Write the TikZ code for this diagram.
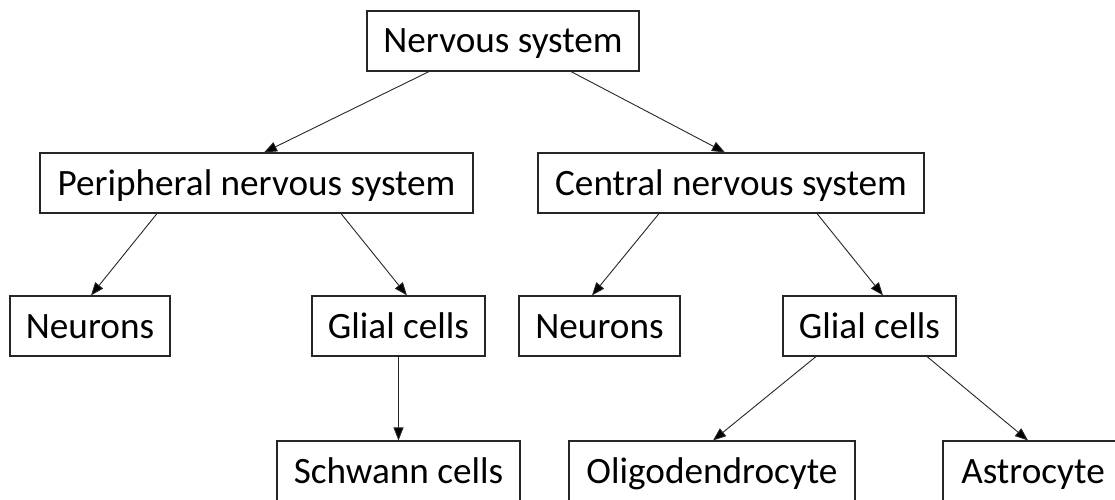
\documentclass[tikz,border=0pt]{standalone}
\usepackage{fontspec}
\setmainfont{Carlito}
\usetikzlibrary{arrows.meta}
\begin{document}
\begin{tikzpicture}[x=1pt,y=-1pt,
  box/.style={draw=black!85,line width=1.1pt,fill=white,inner sep=0pt,minimum height=60pt,
    font=\fontsize{37.2}{40}\selectfont,text height=24pt,text depth=0pt,anchor=center},
  arr/.style={draw=black!85,line width=0.9pt,-{Triangle[length=13pt,width=10pt,fill=black]}}]
\useasboundingbox (0,0) rectangle (1115,500);
\node[box,minimum width=272pt] (ns) at (503,41) {Nervous system};
\node[box,minimum width=433pt] (pns) at (256.5,183) {Peripheral nervous system};
\node[box,minimum width=386pt] (cns) at (731,183) {Central nervous system};
\node[box,minimum width=160pt] (n1) at (90,326) {Neurons};
\node[box,minimum width=173pt] (g1) at (398.5,326) {Glial cells};
\node[box,minimum width=161pt] (n2) at (599.5,326) {Neurons};
\node[box,minimum width=173pt] (g2) at (869.5,326) {Glial cells};
\node[box,minimum width=243pt] (sc) at (398.5,471) {Schwann cells};
\node[box,minimum width=286pt] (ol) at (712,471) {Oligodendrocyte};
\node[box,minimum width=180pt] (as) at (1033,471) {Astrocyte};
\draw[arr] ([xshift=-74pt]ns.south) -- ([xshift=7.5pt]pns.north);
\draw[arr] ([xshift=68pt]ns.south) -- ([xshift=-6pt]cns.north);
\draw[arr] ([xshift=-99.5pt]pns.south) -- ([xshift=1pt]n1.north);
\draw[arr] ([xshift=84.5pt]pns.south) -- ([xshift=8.5pt]g1.north);
\draw[arr] ([xshift=-72pt]cns.south) -- ([xshift=-7.5pt]n2.north);
\draw[arr] ([xshift=86pt]cns.south) -- ([xshift=13.5pt]g2.north);
\draw[arr] (g1.south) -- (sc.north);
\draw[arr] ([xshift=-53.5pt]g2.south) -- ([xshift=1pt]ol.north);
\draw[arr] ([xshift=57.5pt]g2.south) -- ([xshift=-5pt]as.north);
\end{tikzpicture}
\end{document}
